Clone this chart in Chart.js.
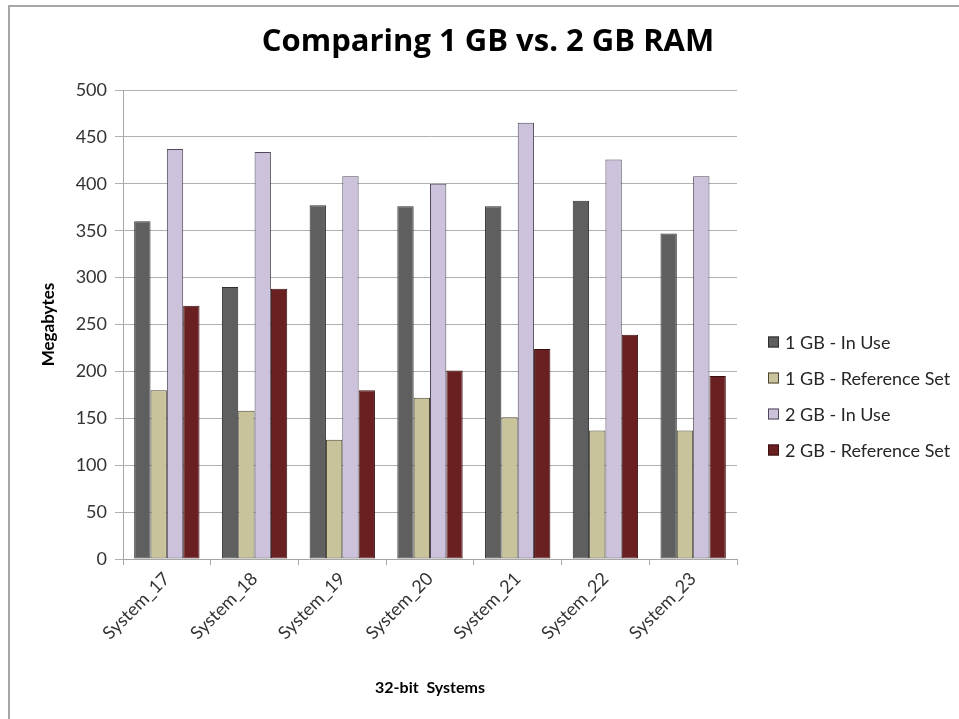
<!DOCTYPE html>
<html>
<head>
<meta charset="utf-8">
<title>Comparing 1 GB vs. 2 GB RAM</title>
<script src="https://cdn.jsdelivr.net/npm/chart.js@4.4.1/dist/chart.umd.min.js"></script>
<style>
  html, body { margin: 0; padding: 0; background: #ffffff; overflow: hidden; }
  #wrap { position: relative; width: 959px; height: 719px; overflow: hidden; }
  #frame {
    position: absolute; left: 8px; top: 5px; width: 1000px; height: 800px;
    border-left: 2px solid #a6a6a6; border-top: 2px solid #a6a6a6;
    box-sizing: border-box;
  }
  #chart { position: absolute; left: 0; top: 0; }
</style>
</head>
<body>
<div id="wrap">
  <div id="frame"></div>
  <canvas id="chart" width="980" height="719" style="width:980px;height:719px"></canvas>
</div>
<script>
// Memory usage per test system, in megabytes
const categories = ['System_17', 'System_18', 'System_19', 'System_20', 'System_21', 'System_22', 'System_23'];
const inUse1GB   = [360, 290, 377, 376, 376, 382, 347];
const refSet1GB  = [180, 158, 127, 172, 151, 137, 137];
const inUse2GB   = [437, 434, 408, 400, 465, 426, 408];
const refSet2GB  = [270, 288, 180, 201, 224, 239, 195];
const seriesNames = ['1 GB - In Use', '1 GB - Reference Set', '2 GB - In Use', '2 GB - Reference Set'];
const chartTitle = 'Comparing 1 GB vs. 2 GB RAM';
const yMin = 0, yMax = 500, yStep = 50;

const FONT = 'Lato, "Open Sans", "DejaVu Sans", sans-serif';

// Title centred over the whole chart object (including the legend column)
const wideTitle = {
  id: 'wideTitle',
  afterDraw(chart) {
    const ctx = chart.ctx;
    ctx.save();
    ctx.font = 'bold 31px "Open Sans", Lato, sans-serif';
    ctx.fillStyle = '#000000';
    ctx.textAlign = 'center';
    ctx.textBaseline = 'alphabetic';
    ctx.fillText(chartTitle, 488, 51);
    ctx.restore();
  }
};

// Legend drawn at the right of the plot, Excel-style
const sideLegend = {
  id: 'sideLegend',
  afterDraw(chart) {
    const ctx = chart.ctx;
    const x0 = 768, y0 = 342, step = 36, box = 11;
    ctx.save();
    ctx.font = '18px ' + FONT;
    ctx.textBaseline = 'middle';
    ctx.textAlign = 'left';
    chart.data.datasets.forEach((ds, i) => {
      const cy = y0 + i * step;
      ctx.fillStyle = ds.backgroundColor;
      ctx.fillRect(x0, cy - box / 2, box, box);
      ctx.strokeStyle = ds.borderColor;
      ctx.lineWidth = 1;
      ctx.strokeRect(x0 + 0.5, cy - box / 2 + 0.5, box - 1, box - 1);
      ctx.fillStyle = '#262626';
      ctx.fillText(ds.label, x0 + 17, cy + 1);
    });
    ctx.restore();
  }
};

const fills = ['#5f5f5f', '#c9c39b', '#ccc2dc', '#6a1f21'];
const edges = ['#2e2e2e', '#4a4633', '#4e4858', '#3a1010'];
const values = [inUse1GB, refSet1GB, inUse2GB, refSet2GB];

new Chart(document.getElementById('chart'), {
  type: 'bar',
  data: {
    labels: categories,
    datasets: values.map((v, i) => ({
      label: seriesNames[i],
      data: v,
      backgroundColor: fills[i],
      borderColor: edges[i],
      borderWidth: 1,
      borderSkipped: false,
      categoryPercentage: 0.745,
      barPercentage: 1.0
    }))
  },
  options: {
    responsive: false,
    animation: false,
    devicePixelRatio: 1,
    layout: { padding: { left: 9, right: 243, top: 90, bottom: 0 } },
    plugins: {
      legend: { display: false },
      tooltip: { enabled: false },
      title: { display: false }
    },
    scales: {
      x: {
        grid: { display: true, drawOnChartArea: false, drawTicks: true, tickLength: 6, offset: true, color: '#a6a6a6', lineWidth: 1 },
        border: { display: true, color: '#a6a6a6', width: 1 },
        ticks: {
          color: '#333333',
          font: { family: FONT, size: 18 },
          maxRotation: 45, minRotation: 45,
          padding: 3
        },
        title: {
          display: true,
          text: '32-bit  Systems',
          color: '#000000',
          font: { family: FONT, size: 16, weight: 'bold' },
          padding: { top: 4, bottom: 22 }
        },
        afterFit(scale) { scale.height = 160; }
      },
      y: {
        min: yMin, max: yMax,
        grid: { color: '#b0b0b0', lineWidth: 1, drawTicks: true, tickLength: 8 },
        border: { display: true, color: '#a6a6a6', width: 1 },
        ticks: {
          stepSize: yStep,
          color: '#333333',
          font: { family: FONT, size: 18 },
          padding: 8
        },
        title: {
          display: true,
          text: 'Megabytes',
          color: '#000000',
          font: { family: FONT, size: 17, weight: 'bold' },
          padding: { top: 29, bottom: 4 }
        },
        afterFit(scale) { scale.width = 114; }
      }
    }
  },
  plugins: [wideTitle, sideLegend]
});
</script>
</body>
</html>
